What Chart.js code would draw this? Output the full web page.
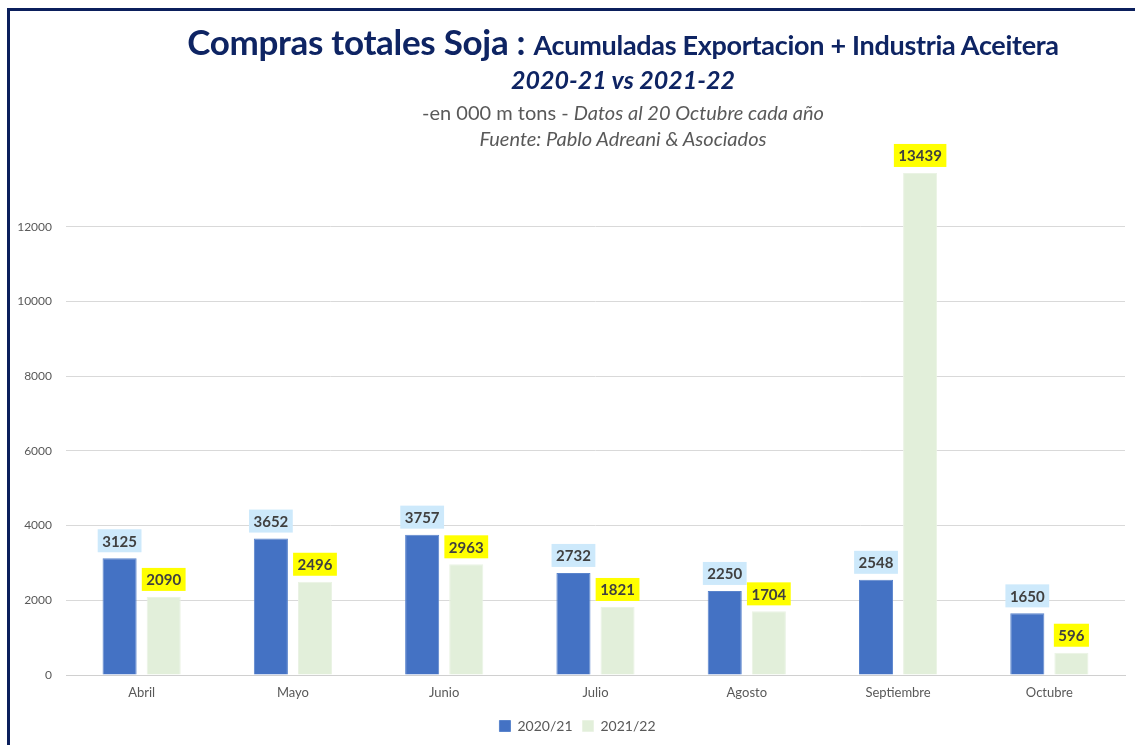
<!DOCTYPE html>
<html>
<head>
<meta charset="utf-8">
<script src="https://cdn.jsdelivr.net/npm/chart.js@4.4.0/dist/chart.umd.min.js"></script>
<style>
    html, body { margin: 0; padding: 0; background: #fff; }
    #wrap { position: relative; width: 1135px; height: 745px; overflow: hidden; }
    #frame {
        position: absolute; left: 7px; top: 8px; width: 1200px; height: 800px;
        border-top: 3px solid #0b1f5c; border-left: 3px solid #0b1f5c;
        box-sizing: border-box;
    }
    .t { position: absolute; left: 111px; width: 1024px; text-align: center; white-space: nowrap; font-family: Lato, "Open Sans", sans-serif; line-height: 1.2; }
    #t1 { top: 20px; color: #0e2463; font-weight: bold; font-size: 35px; letter-spacing: -0.3px; }
    #t1 span { font-size: 27px; }
    #t2 { top: 64px; color: #0e2463; font-weight: bold; font-style: italic; font-size: 25px; }
    #t3 { top: 100px; color: #595959; font-size: 20px; }
    #t4 { top: 126px; color: #595959; font-size: 20px; font-style: italic; }
    canvas { position: absolute; left: 0; top: 0; }
</style>
</head>
<body>
<div id="wrap">
    <canvas id="chart" width="1135" height="745"></canvas>
    <div id="frame"></div>
    <div class="t" id="t1">Compras totales Soja : <span>Acumuladas Exportacion + Industria Aceitera</span></div>
    <div class="t" id="t2">2020-21 vs 2021-22</div>
    <div class="t" id="t3">-en 000 m tons - <i>Datos al 20 Octubre cada año</i></div>
    <div class="t" id="t4">Fuente: Pablo Adreani &amp; Asociados</div>
</div>
<script>
// Data
const months = ['Abril', 'Mayo', 'Junio', 'Julio', 'Agosto', 'Septiembre', 'Octubre'];
const compras2021 = [3125, 3652, 3757, 2732, 2250, 2548, 1650];
const compras2122 = [2090, 2496, 2963, 1821, 1704, 13439, 596];
const seriesNames = ['2020/21', '2021/22'];

const FONT = 'Lato, "Open Sans", sans-serif';
const labelBg = ['#cde9fb', '#ffff00'];

// Boxed value labels above each bar
const valueLabels = {
    id: 'valueLabels',
    afterDatasetsDraw(chart) {
        const ctx = chart.ctx;
        ctx.save();
        ctx.font = 'bold 15px ' + FONT;
        ctx.textAlign = 'center';
        ctx.textBaseline = 'middle';
        chart.data.datasets.forEach((ds, i) => {
            chart.getDatasetMeta(i).data.forEach((bar, j) => {
                const txt = String(ds.data[j]);
                const w = ctx.measureText(txt).width + 9;
                const h = 23;
                const bottom = bar.y - 6;
                ctx.fillStyle = labelBg[i];
                ctx.fillRect(bar.x - w / 2, bottom - h, w, h);
                ctx.fillStyle = '#404040';
                ctx.fillText(txt, bar.x, bottom - h / 2 + 1);
            });
        });
        ctx.restore();
    }
};

// Legend in the reference sits a little right of the canvas centre
const legendShift = {
    id: 'legendShift',
    afterLayout(chart) {
        chart.legend.left += 30;
    }
};

new Chart(document.getElementById('chart'), {
    type: 'bar',
    data: {
        labels: months,
        datasets: [
            {
                label: seriesNames[0],
                data: compras2021,
                backgroundColor: '#4472c4',
                borderColor: '#5a84cc',
                borderWidth: 1,
                categoryPercentage: 0.583,
                barPercentage: 0.773
            },
            {
                label: seriesNames[1],
                data: compras2122,
                backgroundColor: '#e2efda',
                borderColor: '#eaf3e4',
                borderWidth: 1,
                categoryPercentage: 0.583,
                barPercentage: 0.773
            }
        ]
    },
    options: {
        responsive: false,
        animation: false,
        layout: { padding: { top: 152, right: 10, bottom: 2, left: 0 } },
        plugins: {
            legend: {
                position: 'bottom',
                labels: {
                    boxWidth: 11,
                    boxHeight: 11,
                    padding: 10,
                    color: '#595959',
                    font: { family: FONT, size: 14 }
                }
            },
            tooltip: { enabled: false }
        },
        scales: {
            x: {
                grid: { display: false, drawTicks: false },
                border: { color: '#d0d0d0', width: 1 },
                ticks: { color: '#595959', padding: 10, font: { family: FONT, size: 13 } },
                afterFit(scale) { scale.height = 34; }
            },
            y: {
                min: 0,
                max: 14000,
                border: { display: false },
                grid: {
                    drawTicks: false,
                    color: (c) => (c.tick && c.tick.value === 14000 ? 'rgba(0,0,0,0)' : '#d9d9d9')
                },
                ticks: {
                    stepSize: 2000,
                    padding: 14,
                    color: '#595959',
                    font: { family: FONT, size: 12 },
                    callback: (v) => (v === 14000 ? '' : v)
                },
                afterFit(scale) { scale.width = 66; }
            }
        }
    },
    plugins: [valueLabels, legendShift]
});
</script>
</body>
</html>
